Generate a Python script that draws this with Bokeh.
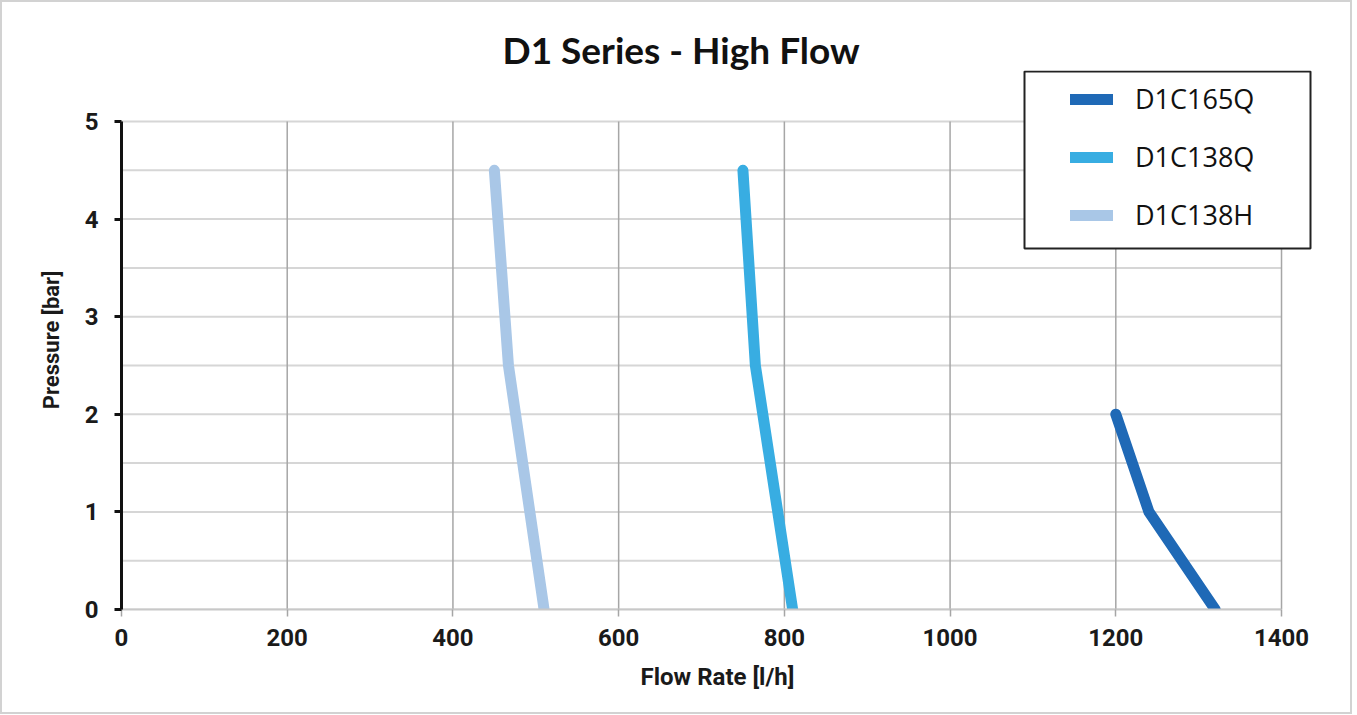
from bokeh.plotting import figure
from bokeh.models import (Range1d, FixedTicker, Legend, LegendItem, BoxAnnotation)
from bokeh.embed import file_html
from bokeh.resources import INLINE

# ---- data ----
chart_title = "D1 Series - High Flow"
series_names = ["D1C165Q", "D1C138Q", "D1C138H"]
flow_165q = [1200, 1240, 1320]
pres_165q = [2.0, 1.0, 0.0]
flow_138q = [750, 765, 810]
pres_138q = [4.5, 2.5, 0.0]
flow_138h = [450, 467, 510]
pres_138h = [4.5, 2.5, 0.0]
series_colors = ["#1F69B6", "#38ADE2", "#A9C7E7"]
x_ticks = [0, 200, 400, 600, 800, 1000, 1200, 1400]
y_ticks = [0, 1, 2, 3, 4, 5]
y_grid_ticks = [0, 0.5, 1, 1.5, 2, 2.5, 3, 3.5, 4, 4.5, 5]

FONT_NUM = "Roboto"

p = figure(width=1352, height=714, output_backend="svg", toolbar_location=None,
           x_range=Range1d(0, 1438.6), y_range=Range1d(0, 5.5225),
           min_border_left=119, min_border_right=41, min_border_top=68, min_border_bottom=107,
           title=chart_title)
p.styles = {"border": "2px solid #d2d2d2", "box-sizing": "border-box"}
p.background_fill_color = "white"
p.border_fill_color = "white"
p.outline_line_color = None

p.title.text_font = "Lato"
p.title.text_font_style = "bold"
p.title.text_font_size = "37px"
p.title.text_color = "#111111"
p.title.align = "left"
p.title.offset = 381
p.title.standoff = -3

# grids (limited to the plotted region 0..1400 x 0..5)
p.xgrid.visible = False
p.ygrid.visible = False
p.segment(x0=[x_ticks[0]] * len(y_grid_ticks), y0=y_grid_ticks,
          x1=[x_ticks[-1]] * len(y_grid_ticks), y1=y_grid_ticks,
          line_color="#d6d6d6", line_width=2)
p.segment(x0=x_ticks, y0=[y_ticks[0]] * len(x_ticks), x1=x_ticks, y1=[y_ticks[-1]] * len(x_ticks),
          line_color="#a6a6a6", line_width=1.5)

# x axis
p.xaxis.ticker = FixedTicker(ticks=x_ticks)
p.xaxis.bounds = (x_ticks[0], x_ticks[-1])
p.xaxis.axis_line_color = "#c8c8c8"
p.xaxis.axis_line_width = 2
p.xaxis.major_tick_line_color = "#a6a6a6"
p.xaxis.major_tick_line_width = 1.5
p.xaxis.major_tick_out = 7
p.xaxis.major_tick_in = 0
p.xaxis.minor_tick_line_color = None
p.xaxis.major_label_standoff = 12
p.xaxis.major_label_text_font = FONT_NUM
p.xaxis.major_label_text_font_style = "bold"
p.xaxis.major_label_text_font_size = "24px"
p.xaxis.major_label_text_color = "#1a1a1a"
p.xaxis.axis_label = "Flow Rate [l/h]"
p.xaxis.axis_label_text_font = FONT_NUM
p.xaxis.axis_label_text_font_style = "bold"
p.xaxis.axis_label_text_font_size = "24px"
p.xaxis.axis_label_text_color = "#1a1a1a"
p.xaxis.axis_label_standoff = 14

# y axis
p.yaxis.ticker = FixedTicker(ticks=y_ticks)
p.yaxis.bounds = (y_ticks[0], y_ticks[-1])
p.yaxis.axis_line_color = "#111111"
p.yaxis.axis_line_width = 3
p.yaxis.major_tick_line_color = "#111111"
p.yaxis.major_tick_line_width = 3
p.yaxis.major_tick_out = 7
p.yaxis.major_tick_in = 0
p.yaxis.minor_tick_line_color = None
p.yaxis.major_label_standoff = 16
p.yaxis.major_label_text_font = FONT_NUM
p.yaxis.major_label_text_font_style = "bold"
p.yaxis.major_label_text_font_size = "24px"
p.yaxis.major_label_text_color = "#1a1a1a"
p.yaxis.axis_label = "Pressure [bar]"
p.yaxis.axis_label_text_font = FONT_NUM
p.yaxis.axis_label_text_font_style = "bold"
p.yaxis.axis_label_text_font_size = "22px"
p.yaxis.axis_label_text_color = "#1a1a1a"
p.yaxis.axis_label_standoff = 18

# lines
r1 = p.line(flow_165q, pres_165q, line_color=series_colors[0], line_width=11,
            line_cap="round", line_join="round")
r2 = p.line(flow_138q, pres_138q, line_color=series_colors[1], line_width=11,
            line_cap="round", line_join="round")
r3 = p.line(flow_138h, pres_138h, line_color=series_colors[2], line_width=11,
            line_cap="round", line_join="round")

# legend box
p.add_layout(BoxAnnotation(left=903, right=1189, bottom=361, top=538,
                           left_units="screen", right_units="screen",
                           bottom_units="screen", top_units="screen",
                           fill_color="white", fill_alpha=1.0,
                           line_color="#222222", line_alpha=1.0, line_width=2))

legend = Legend(items=[LegendItem(label=series_names[0], renderers=[r1]),
                       LegendItem(label=series_names[1], renderers=[r2]),
                       LegendItem(label=series_names[2], renderers=[r3])],
                location=(949, 376))
legend.border_line_color = None
legend.background_fill_alpha = 0
legend.padding = 0
legend.margin = 0
legend.spacing = 21
legend.glyph_width = 43
legend.glyph_height = 36
legend.label_height = 36
legend.label_standoff = 22
legend.label_text_font = "Open Sans"
legend.label_text_font_size = "27px"
legend.label_text_color = "#111111"
p.add_layout(legend, "center")

open("out.html", "w").write(file_html(p, INLINE))
